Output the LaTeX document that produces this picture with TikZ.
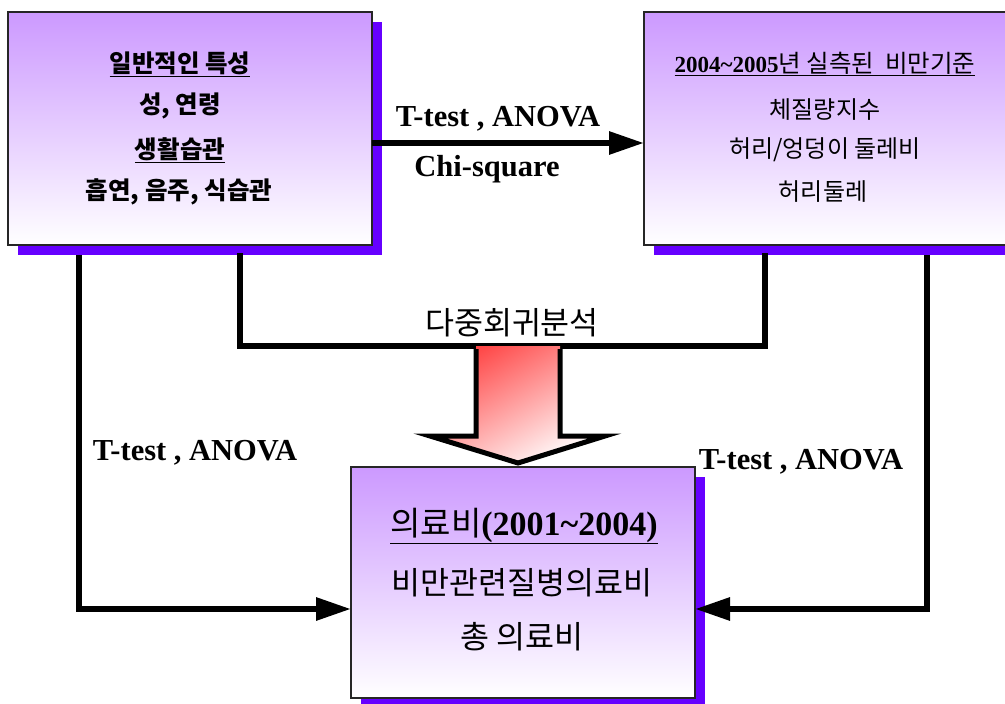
\documentclass[tikz,border=0pt]{standalone}
\usepackage{fontspec}
\setmainfont{Liberation Serif}
\newfontfamily\kr{Noto Sans CJK KR}
\usetikzlibrary{arrows.meta,shadows}
\definecolor{boxtop}{RGB}{204,153,255}
\definecolor{shadowc}{RGB}{102,0,255}
\definecolor{arrred}{RGB}{255,70,70}
\tikzset{
  box/.style={draw=black!85, line width=1.5pt, top color=boxtop, bottom color=white,
    inner sep=0pt, outer sep=0pt,
    drop shadow={shadow xshift=10pt, shadow yshift=-10pt, fill=shadowc, opacity=1}},
  krb/.style={font=\kr\bfseries\fontsize{24.5}{28}\selectfont, inner sep=0pt},
  krr/.style={font=\kr\fontsize{24}{28}\selectfont, inner sep=0pt},
  krbig/.style={font=\kr\fontsize{31.5}{34}\selectfont, inner sep=0pt},
  lbl/.style={font=\bfseries\fontsize{30.5}{33}\selectfont, inner sep=0pt},
  conn/.style={line width=6pt, line join=miter, draw=black},
  tip/.style={-{Triangle[length=35pt,width=22pt]}},
}
\begin{document}
\begin{tikzpicture}[x=1pt,y=-1pt]
\clip (0,0) rectangle (1005,704);
\fill[white] (0,0) rectangle (1005,704);

% boxes
\node[box, minimum width=364pt, minimum height=233pt] (b1) at (190,128.5) {};
\node[box, minimum width=380pt, minimum height=233pt] (b2) at (834,128.5) {};
\node[box, minimum width=344pt, minimum height=231pt] (b3) at (523,582.5) {};

% box 1 texts
\node[krb] (t11) at (180,64) {\underline{일반적인 특성}};
\node[krb] (t12) at (180,106) {성, 연령};
\node[krb] (t13) at (180,150) {\underline{생활습관}};
\node[krb] (t14) at (179,192) {흡연, 음주, 식습관};

% box 2 texts
\node[krr] (t21) at (825,64) {\underline{{\rmfamily\bfseries\fontsize{23}{26}\selectfont 2004\textasciitilde 2005}{\kr\fontsize{24.5}{28}\selectfont 년 실측된 \ 비만기준}}};
\node[krr] (t22) at (825,110) {체질량지수};
\node[krr] (t23) at (825,150) {허리/엉덩이 둘레비};
\node[krr] (t24) at (823,192) {허리둘레};

% box 3 texts
\node[krbig] (t31) at (524,526) {\underline{{\fontsize{33}{36}\selectfont 의료비}{\rmfamily\bfseries\fontsize{34}{36}\selectfont (2001\textasciitilde 2004)}}};
\node[krbig] (t32) at (522,583) {비만관련질병의료비};
\node[krbig] (t33) at (522,637) {총 의료비};

% coordinates
\coordinate (ty) at (0,143);
\coordinate (lx) at (79,609);
\coordinate (rx) at (927,609);
\coordinate (m1) at (240,346);
\coordinate (m2) at (765,346);

% connectors
\draw[conn, tip] (b1.east |- ty) -- (b2.west |- ty);
\draw[conn, tip] ([yshift=-10pt]b1.south -| lx) -- (lx) -- (b3.west |- lx);
\draw[conn, tip] ([yshift=-10pt]b2.south -| rx) -- (rx) -- (b3.east |- rx);
\draw[conn] ([yshift=-8pt]b1.south -| m1) -- (m1) -- (m2) -- ([yshift=-8pt]b2.south -| m2);

% big arrow
\shade[top color=arrred, bottom color=white, shading angle=30]
  (476,346) -- (476,436) -- (430,436) -- (518,463) -- (605,436) -- (560,436) -- (560,346) -- cycle;
\draw[line width=5pt, line join=miter, black]
  (476,349) -- (476,436) -- (430,436) -- (518,463) -- (605,436) -- (560,436) -- (560,349);

% labels
\node[lbl] (l1) at (498,119) {T-test , ANOVA};
\node[lbl] (l2) at (487,169) {Chi-square};
\node[krbig] (l3) at (512,323) {다중회귀분석};
\node[lbl] (l4) at (195,453) {T-test , ANOVA};
\node[lbl] (l5) at (801,462) {T-test , ANOVA};
\end{tikzpicture}
\end{document}
